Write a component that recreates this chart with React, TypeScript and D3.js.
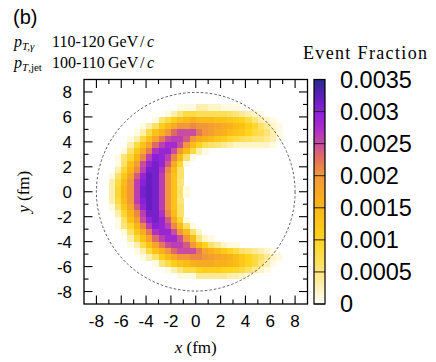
import React from "react";
import * as d3 from "d3";

// axis ticks (fm)
const majorTicks = [-8, -6, -4, -2, 0, 2, 4, 6, 8];
const minorTicks = [-7, -5, -3, -1, 1, 3, 5, 7];

// colour bar
const colorbarTicks = [0, 0.0005, 0.001, 0.0015, 0.002, 0.0025, 0.003, 0.0035];
const colorbarLabels = ["0", "0.0005", "0.001", "0.0015", "0.002", "0.0025", "0.003", "0.0035"];
const colorStops = [0, 0.0005, 0.001, 0.0015, 0.002, 0.00225, 0.0025, 0.00275, 0.003, 0.00325, 0.0035];
const colorValues = [
  "#fffffb", "#fee57a", "#ffd41c", "#fbb616", "#f2983a", "#e2725a",
  "#c84ca0", "#a92ccc", "#8a20d8", "#5a1fb8", "#272a8c",
];

// event fraction in 0.5 fm cells, rows from y = +9 down to y = -9.
// each row: [first non-empty column, one base-36 char per cell in units of 1e-4]
const cellSize = 0.5;
const fractionUnit = 0.0001;
const fractionRows: [number, string][] = [
  [0, ""],
  [0, ""],
  [0, ""],
  [0, ""],
  [15, "1113322111"],
  [13, "1358877777654321"],
  [11, "158bdegeeeddcba85321"],
  [9, "136behkklkkjihgedb96421"],
  [8, "138dgknpppmkjhgedca87531"],
  [7, "138dimpqqokhfecb987655431"],
  [7, "38dinqsspkea765432222221"],
  [6, "16chmrttpke831"],
  [5, "159flqutqle61"],
  [5, "16djptvtoh91"],
  [5, "39flqvvrle6"],
  [4, "16ciotwvqkd6"],
  [4, "38ekquwvqkd5"],
  [4, "39fkqvwvqkd61"],
  [4, "39fkqvwvqkd61"],
  [4, "38ekquwvqkd5"],
  [4, "16ciotwvqkd6"],
  [5, "39flqvvrle6"],
  [5, "16djptvtoh91"],
  [5, "159flqutqle61"],
  [6, "16chmrttpke62"],
  [7, "38dinqsspke521"],
  [7, "138dimpqqokea64211"],
  [8, "138dgknpppmigeca8654321"],
  [9, "136behkkllkjihgeca86421"],
  [11, "158bdeghhhggfeca8531"],
  [13, "13588abbbaa986421"],
  [15, "111444443321"],
  [0, ""],
  [0, ""],
  [0, ""],
  [0, ""],
];

const sans = "'Liberation Sans', Arial, Helvetica, sans-serif";
const serif = "'Liberation Serif', 'Times New Roman', serif";

export default function App() {
  const left = 84, right = 307.5, top = 79.5, bottom = 304;
  const x = d3.scaleLinear().domain([-9, 9]).range([left, right]);
  const y = d3.scaleLinear().domain([-9, 9]).range([bottom, top]);
  const color = d3.scaleLinear<string>().domain(colorStops).range(colorValues).interpolate(d3.interpolateRgb);

  const cbX = 314, cbW = 11;
  const cbY = d3.scaleLinear().domain([0, 0.0035]).range([bottom, top]);

  const cells: { x0: number; y0: number; v: number }[] = [];
  fractionRows.forEach(([start, codes], j) => {
    codes.split("").forEach((c, k) => {
      const v = parseInt(c, 36) * fractionUnit;
      if (v > 0) cells.push({ x0: -9 + (start + k) * cellSize, y0: 9 - j * cellSize, v });
    });
  });

  const tickLines = (vals: number[], len: number) =>
    vals.flatMap((v) => [
      <line key={"b" + v} x1={x(v)} x2={x(v)} y1={bottom} y2={bottom - len} />,
      <line key={"t" + v} x1={x(v)} x2={x(v)} y1={top} y2={top + len} />,
      <line key={"l" + v} x1={left} x2={left + len} y1={y(v)} y2={y(v)} />,
      <line key={"r" + v} x1={right} x2={right - len} y1={y(v)} y2={y(v)} />,
    ]);

  const ptLine = (yy: number, sub: React.ReactNode, range: string) => (
    <g fontFamily={serif} fontSize={16}>
      <text x={14} y={yy}>
        <tspan fontStyle="italic">p</tspan>
        <tspan fontSize={11} dy={3}>{sub}</tspan>
      </text>
      <text x={52} y={yy}>{range}</text>
      <text x={108} y={yy}>GeV</text>
      <text x={140} y={yy}>/</text>
      <text x={147} y={yy} fontStyle="italic">c</text>
    </g>
  );

  return (
    <svg width={436} height={362} style={{ position: "absolute", left: 0, top: 0, background: "#fff" }}>
      <defs>
        <linearGradient id="cbar" x1="0" y1="1" x2="0" y2="0">
          {colorStops.map((s, i) => (
            <stop key={i} offset={s / 0.0035} stopColor={colorValues[i]} />
          ))}
        </linearGradient>
      </defs>

      <text x={13} y={24} fontFamily={sans} fontSize={20}>(b)</text>

      {ptLine(47, <tspan fontStyle="italic">T,γ</tspan>, "110-120")}
      {ptLine(67.5, <><tspan fontStyle="italic">T</tspan>,jet</>, "100-110")}

      <text x={303} y={59} fontFamily={serif} fontSize={18} textLength={124} lengthAdjust="spacing">
        Event Fraction
      </text>

      <g shapeRendering="crispEdges">
        {cells.map((c, i) => (
          <rect
            key={i}
            x={x(c.x0)}
            y={y(c.y0)}
            width={x(c.x0 + cellSize) - x(c.x0) + 0.4}
            height={y(c.y0 - cellSize) - y(c.y0) + 0.4}
            fill={color(c.v)}
          />
        ))}
      </g>

      <circle cx={x(0)} cy={y(0)} r={x(8) - x(0)} fill="none" stroke="#333" strokeWidth={0.8} strokeDasharray="2.5,2" />

      <g stroke="#000" strokeWidth={1.1}>
        {tickLines(majorTicks, 8.5)}
        {tickLines(minorTicks, 4.5)}
      </g>
      <rect x={left} y={top} width={right - left} height={bottom - top} fill="none" stroke="#000" strokeWidth={1.3} />

      {majorTicks.map((v) => (
        <text key={"xl" + v} x={x(v)} y={327} textAnchor="middle" fontFamily={sans} fontSize={17}>{v}</text>
      ))}
      {majorTicks.map((v) => (
        <text key={"yl" + v} x={72} y={y(v) + 6.3} textAnchor="end" fontFamily={sans} fontSize={17}>{v}</text>
      ))}

      <text x={(left + right) / 2} y={353} textAnchor="middle" fontFamily={serif} fontSize={17}>
        <tspan fontStyle="italic">x</tspan> (fm)
      </text>
      <text transform={`translate(29, ${(top + bottom) / 2}) rotate(-90)`} textAnchor="middle" fontFamily={serif} fontSize={17}>
        <tspan fontStyle="italic">y</tspan> (fm)
      </text>

      <rect x={cbX} y={top} width={cbW} height={bottom - top} fill="url(#cbar)" />
      <g stroke="#222" strokeWidth={1}>
        {colorbarTicks.map((t) => (
          <line key={t} x1={cbX} x2={cbX + cbW} y1={cbY(t)} y2={cbY(t)} />
        ))}
      </g>
      <rect x={cbX} y={top} width={cbW} height={bottom - top} fill="none" stroke="#000" strokeWidth={1.2} />
      {colorbarTicks.map((t, i) => (
        <text key={"cl" + t} x={340} y={cbY(t) + 8.4} fontFamily={sans} fontSize={23.5}>{colorbarLabels[i]}</text>
      ))}
    </svg>
  );
}
